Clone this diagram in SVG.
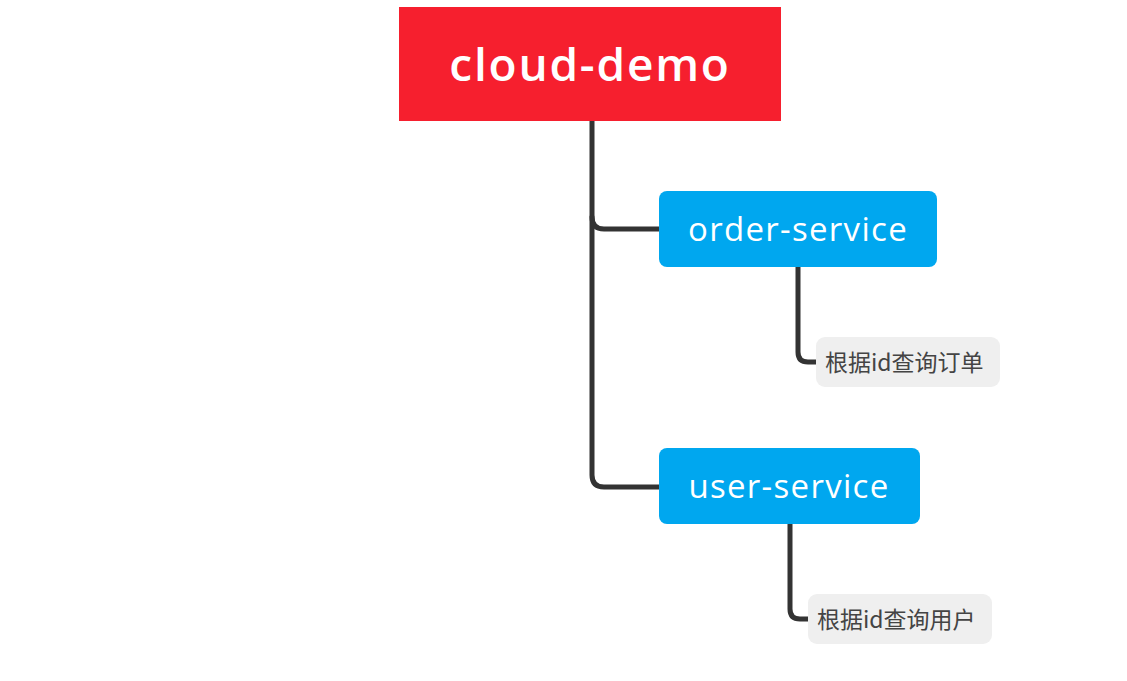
<svg xmlns="http://www.w3.org/2000/svg" width="1127" height="681" viewBox="0 0 1127 681">
<style>
.line{fill:none;stroke:#333;stroke-width:5;stroke-linecap:round;stroke-linejoin:round}
.main{fill:#00a7ef}
.leaf{fill:#efefef}
.t1{font-family:"Open Sans","Liberation Sans",sans-serif;fill:#fff;text-anchor:middle}
.t2{font-family:"Noto Sans CJK SC","Noto Sans",sans-serif;fill:#444;font-size:23px}
</style>
<rect width="1127" height="681" fill="#fff"/>
<g id="connectors">
<path class="line" d="M592 121 V475 Q592 487 604 487 H660"/>
<path class="line" d="M592 217 Q592 229 604 229 H660"/>
<path class="line" d="M798 267 V352 Q798 362 808 362 H818"/>
<path class="line" d="M790 524 V609 Q790 619 800 619 H810"/>
</g>
<g id="root">
<rect x="399" y="7" width="382" height="114" fill="#f61f2e"/>
<text class="t1" x="590" y="81" font-size="46" font-weight="600" letter-spacing="1.8">cloud-demo</text>
</g>
<g id="order-service">
<rect class="main" x="659" y="191" width="278" height="76" rx="8"/>
<text class="t1" x="798" y="241" font-size="33" letter-spacing="1.3">order-service</text>
</g>
<g id="order-leaf">
<rect class="leaf" x="816" y="337" width="184" height="50" rx="9"/>
<text class="t2" x="825" y="371">根据id查询订单</text>
</g>
<g id="user-service">
<rect class="main" x="659" y="448" width="261" height="76" rx="8"/>
<text class="t1" x="789" y="498" font-size="33" letter-spacing="1.3">user-service</text>
</g>
<g id="user-leaf">
<rect class="leaf" x="808" y="594" width="184" height="50" rx="9"/>
<text class="t2" x="817" y="628">根据id查询用户</text>
</g>
</svg>
